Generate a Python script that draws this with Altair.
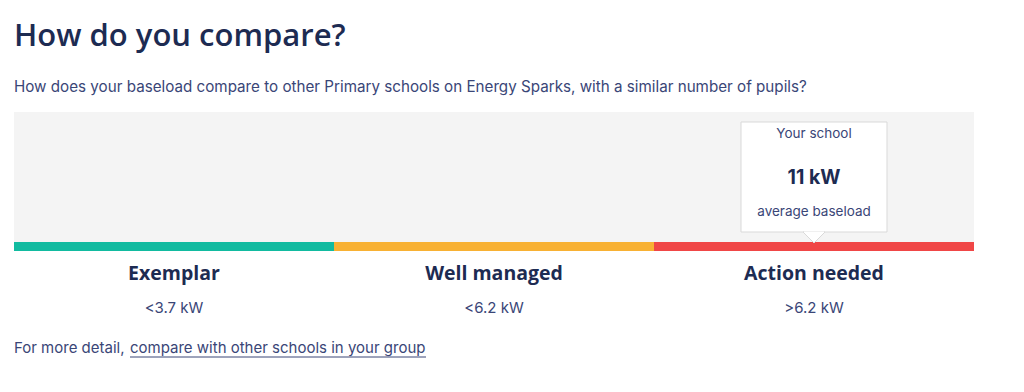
import altair as alt
import pandas as pd

# ---- data ----
categories = ["Exemplar", "Well managed", "Action needed"]
thresholds = ["<3.7 kW", "<6.2 kW", ">6.2 kW"]
band_colors = ["#12bba0", "#f8b133", "#f04646"]
school_category = ["Action needed"]
school_value = ["11 kW"]
school_label_top = ["Your school"]
school_label_bottom = ["average baseload"]

title_text = "How do you compare?"
subtitle_text = "How does your baseload compare to other Primary schools on Energy Sparks, with a similar number of pupils?"
footer_prefix = "For more detail,"
footer_link = "compare with other schools in your group"

bands = pd.DataFrame({"category": categories, "threshold": thresholds})
school = pd.DataFrame({
    "category": school_category,
    "value": school_value,
    "top": school_label_top,
    "bottom": school_label_bottom,
})
one = pd.DataFrame({"a": [0]})

NAVY = "#1d2b52"
BODY = "#3a4677"
TITLE_FONT = "Open Sans"
BODY_FONT = "Inter"

W = 960
xs = alt.X("category:N", sort=categories,
           scale=alt.Scale(domain=categories, paddingInner=0, paddingOuter=0),
           axis=None)

panel = alt.Chart(one).mark_rect(color="#f4f4f4").encode(
    x=alt.value(0), x2=alt.value(W), y=alt.value(112), y2=alt.value(242)
)

bars = alt.Chart(bands).mark_bar().encode(
    x=xs,
    y=alt.value(242), y2=alt.value(251),
    color=alt.Color("category:N", scale=alt.Scale(domain=categories, range=band_colors), legend=None),
)

cat_labels = alt.Chart(bands).mark_text(
    font=TITLE_FONT, fontSize=19.5, fontWeight="bold", color=NAVY, baseline="middle"
).encode(x=xs, y=alt.value(274), text="category:N")

thr_labels = alt.Chart(bands).mark_text(
    font=BODY_FONT, fontSize=15, color=BODY, baseline="middle"
).encode(x=xs, y=alt.value(308), text="threshold:N")

box = alt.Chart(school).mark_bar(
    width=146, color="white", stroke="#d9d9d9", strokeWidth=1
).encode(x=xs, y=alt.value(122), y2=alt.value(232))

pointer = alt.Chart(school).mark_point(
    shape="M-1,0 L1,0 L0,1 Z", size=484, filled=True, fill="white",
    stroke="#d9d9d9", strokeWidth=1, opacity=1
).encode(x=xs, y=alt.value(232))

pointer_cover = alt.Chart(school).mark_bar(
    width=20, color="white"
).encode(x=xs, y=alt.value(231.5), y2=alt.value(233))

t_top = alt.Chart(school).mark_text(
    font=BODY_FONT, fontSize=13.5, color=BODY, baseline="middle"
).encode(x=xs, y=alt.value(134), text="top:N")

t_val = alt.Chart(school).mark_text(
    font=BODY_FONT, fontSize=19.5, fontWeight="bold", color=NAVY, baseline="middle"
).encode(x=xs, y=alt.value(178), text="value:N")

t_bot = alt.Chart(school).mark_text(
    font=BODY_FONT, fontSize=13.5, color=BODY, baseline="middle"
).encode(x=xs, y=alt.value(212), text="bottom:N")

title = alt.Chart(one).mark_text(
    font=TITLE_FONT, fontSize=31, fontWeight=600, color=NAVY, align="left", baseline="alphabetic"
).encode(x=alt.value(0), y=alt.value(46), text=alt.value(title_text))

subtitle = alt.Chart(one).mark_text(
    font=BODY_FONT, fontSize=15.2, color=BODY, align="left", baseline="alphabetic"
).encode(x=alt.value(0), y=alt.value(92), text=alt.value(subtitle_text))

footer1 = alt.Chart(one).mark_text(
    font=BODY_FONT, fontSize=15, color=BODY, align="left", baseline="alphabetic"
).encode(x=alt.value(0), y=alt.value(353), text=alt.value(footer_prefix))

footer2 = alt.Chart(one).mark_text(
    font=BODY_FONT, fontSize=15, color=BODY, align="left", baseline="alphabetic"
).encode(x=alt.value(116), y=alt.value(353), text=alt.value(footer_link))

underline = alt.Chart(one).mark_rule(color=BODY, strokeWidth=1).encode(
    x=alt.value(116), x2=alt.value(412), y=alt.value(357)
)

chart = alt.layer(
    panel, bars, box, pointer, pointer_cover, t_top, t_val, t_bot,
    cat_labels, thr_labels, title, subtitle, footer1, footer2, underline
).properties(
    width=W, height=392,
    autosize=alt.AutoSizeParams(type="none"),
    padding={"left": 14, "right": 50, "top": 0, "bottom": 0},
    background="white",
).configure_view(stroke=None)

chart.save("out.html", embed_options={"renderer": "svg", "actions": False})
